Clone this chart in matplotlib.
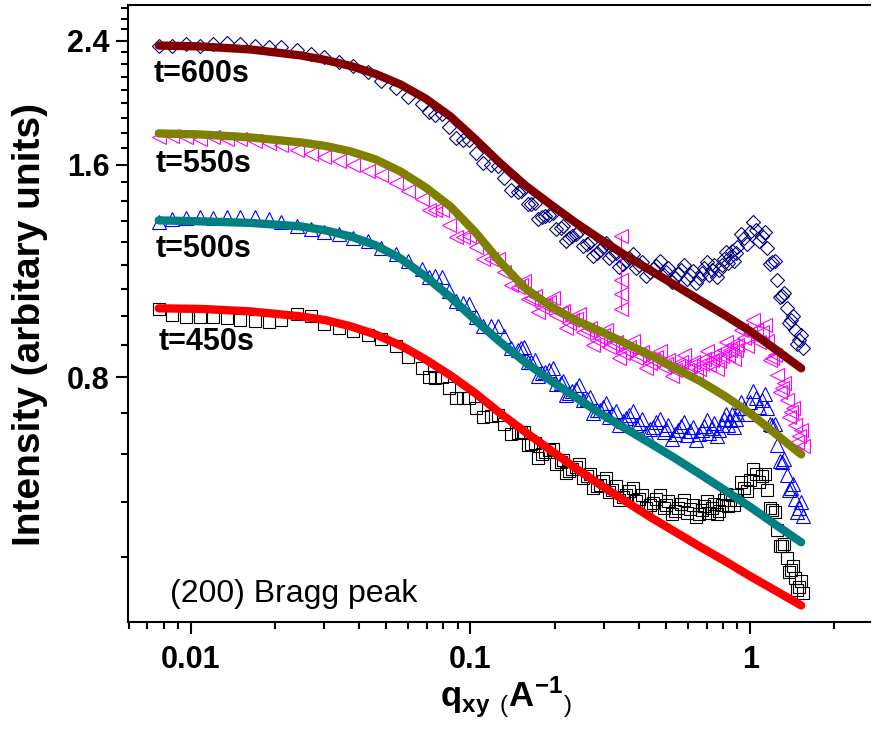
import matplotlib
matplotlib.use('Agg')
import numpy as np
import matplotlib.pyplot as plt
from matplotlib.ticker import FixedLocator, FixedFormatter, NullFormatter, LogLocator

plt.rcParams['font.family'] = ['Liberation Sans', 'DejaVu Sans']
plt.rcParams['mathtext.fontset'] = 'custom'
plt.rcParams['mathtext.rm'] = 'Liberation Sans'
plt.rcParams['mathtext.bf'] = 'Liberation Sans:bold'
plt.rcParams['mathtext.it'] = 'Liberation Sans:italic'

# ---------------- data ----------------
q = [0.0077, 0.0086, 0.0096, 0.0108, 0.012, 0.0135, 0.015, 0.017, 0.019, 0.021,
     0.024, 0.027, 0.030, 0.034, 0.038, 0.043, 0.048, 0.054, 0.060, 0.067,
     0.075, 0.084, 0.094, 0.105, 0.118, 0.132, 0.148, 0.165, 0.185, 0.21,
     0.23, 0.26, 0.29, 0.32, 0.36, 0.40, 0.45, 0.50, 0.55, 0.61,
     0.67, 0.73, 0.79, 0.85, 0.90, 0.95, 1.00, 1.05, 1.10, 1.15,
     1.20, 1.25, 1.30, 1.35, 1.40, 1.45, 1.50, 1.55]

I_600 = [2.362, 2.362, 2.370, 2.362, 2.370, 2.378, 2.370, 2.362, 2.354, 2.347,
         2.325, 2.294, 2.272, 2.235, 2.206, 2.164, 2.107, 2.053, 2.000, 1.949,
         1.880, 1.808, 1.733, 1.666, 1.597, 1.531, 1.463, 1.407, 1.353, 1.301,
         1.267, 1.235, 1.211, 1.191, 1.168, 1.153, 1.138, 1.127, 1.119, 1.116,
         1.123, 1.134, 1.153, 1.183, 1.223, 1.259, 1.284, 1.292, 1.267, 1.219,
         1.164, 1.098, 1.042, 1.002, 0.964, 0.933, 0.903, 0.879]

I_550 = [1.75, 1.76, 1.75, 1.74, 1.75, 1.74, 1.74, 1.73, 1.72, 1.71,
         1.68, 1.66, 1.64, 1.62, 1.60, 1.57, 1.55, 1.51, 1.47, 1.43,
         1.38, 1.313, 1.263, 1.223, 1.176, 1.127, 1.073, 1.035, 1.012, 0.986,
         0.964, 0.933, 0.909, 0.891, 0.874, 0.860, 0.846, 0.835, 0.829, 0.829,
         0.835, 0.846, 0.857, 0.874, 0.888, 0.909, 0.924, 0.933, 0.927, 0.902,
         0.851, 0.805, 0.772, 0.742, 0.714, 0.684, 0.660, 0.639]

I_500 = [1.33, 1.34, 1.345, 1.35, 1.345, 1.35, 1.35, 1.35, 1.34, 1.33,
         1.31, 1.30, 1.285, 1.275, 1.26, 1.25, 1.22, 1.195, 1.17, 1.14,
         1.115, 1.06, 1.02, 0.975, 0.945, 0.915, 0.875, 0.84, 0.815, 0.785,
         0.765, 0.745, 0.72, 0.71, 0.70, 0.69, 0.68, 0.675, 0.673, 0.671,
         0.673, 0.677, 0.684, 0.695, 0.709, 0.723, 0.737, 0.747, 0.742, 0.723,
         0.684, 0.641, 0.606, 0.581, 0.557, 0.538, 0.522, 0.508]

I_450 = [1.00, 0.98, 0.973, 0.973, 0.973, 0.97, 0.963, 0.96, 0.957, 0.963,
         0.982, 0.976, 0.951, 0.939, 0.929, 0.918, 0.906, 0.885, 0.856, 0.824,
         0.797, 0.772, 0.747, 0.723, 0.705, 0.687, 0.666, 0.643, 0.626, 0.606,
         0.594, 0.579, 0.563, 0.554, 0.545, 0.538, 0.531, 0.527, 0.523, 0.52,
         0.519, 0.522, 0.527, 0.536, 0.545, 0.558, 0.572, 0.583, 0.579, 0.553,
         0.519, 0.486, 0.461, 0.444, 0.426, 0.415, 0.404, 0.396]

# further (scattered) points in the dense high-q part of each measured curve
q2 = [0.071, 0.079, 0.089, 0.099, 0.111, 0.125, 0.140, 0.156, 0.175, 0.197,
      0.22, 0.245, 0.275, 0.305, 0.34, 0.38, 0.425, 0.475, 0.525, 0.58,
      0.64, 0.70, 0.76, 0.82, 0.875, 0.925, 0.975, 1.025, 1.075, 1.125,
      1.175, 1.225, 1.275, 1.325, 1.375, 1.425, 1.475, 1.525]
I2_600 = [1.899, 1.886, 1.744, 1.733, 1.608, 1.592, 1.472, 1.482, 1.339, 1.366,
          1.247, 1.288, 1.187, 1.239, 1.145, 1.195, 1.112, 1.168, 1.091, 1.153,
          1.087, 1.164, 1.109, 1.203, 1.168, 1.275, 1.235, 1.326, 1.247, 1.284,
          1.157, 1.168, 1.039, 1.052, 0.954, 0.976, 0.891, 0.918]
I2_550 = [1.379, 1.379, 1.263, 1.267, 1.176, 1.176, 1.080, 1.094, 0.989, 1.035,
          0.939, 0.983, 0.888, 0.933, 0.851, 0.900, 0.824, 0.871, 0.803, 0.860,
          0.803, 0.871, 0.821, 0.897, 0.848, 0.933, 0.885, 0.964, 0.897, 0.948,
          0.846, 0.860, 0.762, 0.785, 0.702, 0.723, 0.647, 0.673]
I2_500 = [1.109, 1.109, 1.025, 1.015, 0.945, 0.945, 0.879, 0.882, 0.803, 0.824,
          0.754, 0.779, 0.711, 0.735, 0.684, 0.716, 0.666, 0.698, 0.654, 0.691,
          0.651, 0.695, 0.660, 0.709, 0.680, 0.737, 0.709, 0.764, 0.725, 0.757,
          0.686, 0.686, 0.608, 0.612, 0.553, 0.564, 0.515, 0.532]
I2_450 = [0.800, 0.800, 0.747, 0.747, 0.702, 0.707, 0.664, 0.669, 0.614, 0.633,
          0.585, 0.602, 0.557, 0.576, 0.536, 0.557, 0.522, 0.544, 0.512, 0.536,
          0.507, 0.534, 0.512, 0.546, 0.527, 0.568, 0.552, 0.593, 0.568, 0.583,
          0.522, 0.515, 0.461, 0.464, 0.424, 0.432, 0.399, 0.411]

q3 = [0.152, 0.160, 0.170, 0.180, 0.191, 0.203, 0.215, 0.225, 0.238, 0.252,
      0.268, 0.283, 0.298, 0.312, 0.33, 0.35, 0.37, 0.39, 0.41, 0.44,
      0.46, 0.49, 0.51, 0.54, 0.565, 0.595, 0.625, 0.655, 0.685, 0.715,
      0.745, 0.775, 0.805, 0.835, 0.862, 0.888]
I3_600 = [1.467, 1.407, 1.411, 1.348, 1.357, 1.296, 1.309, 1.259, 1.275, 1.226,
          1.243, 1.199, 1.223, 1.179, 1.199, 1.157, 1.179, 1.142, 1.164, 1.127,
          1.149, 1.116, 1.142, 1.105, 1.134, 1.101, 1.130, 1.105, 1.142, 1.116,
          1.153, 1.134, 1.176, 1.160, 1.207, 1.199]
I3_550 = [1.080, 1.032, 1.042, 1.005, 1.022, 0.979, 0.992, 0.954, 0.967, 0.927,
          0.939, 0.903, 0.918, 0.882, 0.897, 0.865, 0.882, 0.851, 0.868, 0.837,
          0.854, 0.827, 0.846, 0.819, 0.840, 0.819, 0.840, 0.821, 0.848, 0.832,
          0.860, 0.843, 0.874, 0.860, 0.888, 0.874]
I3_500 = [0.879, 0.840, 0.846, 0.811, 0.819, 0.782, 0.790, 0.759, 0.769, 0.742,
          0.750, 0.718, 0.725, 0.702, 0.716, 0.693, 0.707, 0.684, 0.698, 0.675,
          0.691, 0.669, 0.684, 0.664, 0.682, 0.662, 0.680, 0.664, 0.682, 0.666,
          0.689, 0.673, 0.698, 0.684, 0.709, 0.698]
I3_450 = [0.669, 0.641, 0.645, 0.622, 0.631, 0.602, 0.610, 0.589, 0.597, 0.576,
          0.583, 0.561, 0.570, 0.550, 0.561, 0.541, 0.552, 0.534, 0.544, 0.527,
          0.537, 0.522, 0.534, 0.517, 0.529, 0.513, 0.527, 0.512, 0.525, 0.513,
          0.529, 0.517, 0.536, 0.525, 0.544, 0.536]

# glitch in the t=550s scan
spike_q_550 = [0.345, 0.345, 0.345, 0.345]
spike_I_550 = [1.27, 1.10, 1.05, 1.00]

# fitted curves
q_fit = [0.00769, 0.01086, 0.01638, 0.02471, 0.03035, 0.03728, 0.04578, 0.05623,
         0.06907, 0.08483, 0.1042, 0.1280, 0.1572, 0.1931, 0.2371, 0.2913,
         0.3578, 0.4394, 0.5397, 0.6629, 0.8142, 1.0, 1.2283, 1.5208]
fit_600 = [2.362, 2.355, 2.332, 2.287, 2.253, 2.210, 2.153, 2.080, 1.987, 1.874,
           1.739, 1.608, 1.496, 1.407, 1.326, 1.255, 1.191, 1.134, 1.080, 1.028,
           0.979, 0.930, 0.877, 0.824]
fit_550 = [1.773, 1.767, 1.750, 1.722, 1.702, 1.672, 1.629, 1.566, 1.487, 1.397,
           1.284, 1.164, 1.069, 1.009, 0.964, 0.930, 0.894, 0.860, 0.824, 0.790,
           0.752, 0.711, 0.666, 0.622]
fit_500 = [1.335, 1.331, 1.324, 1.309, 1.292, 1.267, 1.231, 1.179, 1.112, 1.039,
           0.964, 0.897, 0.840, 0.792, 0.750, 0.711, 0.677, 0.645, 0.614, 0.583,
           0.553, 0.524, 0.495, 0.467]
fit_450 = [1.002, 1.000, 0.992, 0.976, 0.964, 0.945, 0.920, 0.888, 0.848, 0.805,
           0.759, 0.711, 0.669, 0.631, 0.595, 0.563, 0.534, 0.507, 0.483, 0.460,
           0.439, 0.418, 0.399, 0.380]

labels = ['t=600s', 't=550s', 't=500s', 't=450s']
label_q = [0.0074, 0.0075, 0.0075, 0.0077]
label_I = [2.094, 1.561, 1.183, 0.874]

x_ticks = [0.01, 0.1, 1]
x_ticklabels = ['0.01', '0.1', '1']
y_ticks = [0.8, 1.6, 2.4]
y_ticklabels = ['0.8', '1.6', '2.4']

# ---------------- figure ----------------
fig = plt.figure(figsize=(8.72, 7.31), dpi=100)
ax = fig.add_axes([128 / 872, 1 - 622 / 731, (870 - 128) / 872, (622 - 5) / 731])
ax.set_xscale('log')
ax.set_yscale('log')

series = [
    ([q, q2, q3], [I_600, I2_600, I3_600], 'D', 7.5, '#000080'),
    ([q, q2, q3], [I_550, I2_550, I3_550], '<', 10, '#FF00FF'),
    ([q, q2, q3], [I_500, I2_500, I3_500], '^', 10, '#0000FF'),
    ([q, q2, q3], [I_450, I2_450, I3_450], 's', 8.5, '#000000'),
]
for qs, Is, m, ms, c in series:
    for qa, Ia in zip(qs, Is):
        ax.plot(qa, Ia, ls='none', marker=m, ms=ms, mfc='none', mec=c, mew=0.8, zorder=2)
ax.plot(spike_q_550, spike_I_550, ls='-', lw=0.8, color='#FF00FF', marker='<', ms=10,
        mfc='none', mec='#FF00FF', mew=0.8, zorder=2)

lk = dict(lw=6, solid_capstyle='round', solid_joinstyle='round', zorder=5)
ax.plot(q_fit, fit_600, color='#800000', **lk)
ax.plot(q_fit, fit_550, color='#808000', **lk)
ax.plot(q_fit, fit_500, color='#008080', **lk)
ax.plot(q_fit, fit_450, color='#FF0000', **lk)

for lab, lq, li in zip(labels, label_q, label_I):
    ax.text(lq, li, lab, fontsize=22, fontweight='bold', va='baseline', ha='left', zorder=6)

ax.text(0.057, 0.032, '(200) Bragg peak', transform=ax.transAxes, fontsize=23,
        va='baseline', ha='left')

ax.set_xlim(0.00597, 2.68)
ax.set_ylim(0.36, 2.696)

ax.xaxis.set_major_locator(FixedLocator(x_ticks))
ax.xaxis.set_major_formatter(FixedFormatter(x_ticklabels))
ax.xaxis.set_minor_locator(LogLocator(base=10, subs=np.arange(2, 10)))
ax.xaxis.set_minor_formatter(NullFormatter())

ax.yaxis.set_major_locator(FixedLocator(y_ticks))
ax.yaxis.set_major_formatter(FixedFormatter(y_ticklabels))
ax.yaxis.set_minor_locator(FixedLocator([0.8 * k / 9 for k in range(4, 31) if k % 9 != 0]))
ax.yaxis.set_minor_formatter(NullFormatter())

ax.tick_params(which='major', direction='out', length=8.5, width=1.5, labelsize=22, pad=5)
ax.tick_params(which='minor', direction='out', length=5, width=1.5)
ax.tick_params(axis='x', which='major', pad=8)
for t in ax.get_xticklabels() + ax.get_yticklabels():
    t.set_fontweight('bold')

for s in ['left', 'bottom', 'top']:
    ax.spines[s].set_linewidth(1.5)
ax.spines['right'].set_visible(False)

fig.text(30 / 872, 1 - 324 / 731, 'Intensity (arbitary units)', rotation=90,
         fontsize=28, fontweight='bold', ha='center', va='center')
fig.text(506 / 872, 1 - 707 / 731, r'$\mathbf{q_{xy}}\ _{(}\mathbf{A^{-1}}_{)}$',
         fontsize=25, ha='center', va='baseline')

fig.savefig('out.png', dpi=100)
